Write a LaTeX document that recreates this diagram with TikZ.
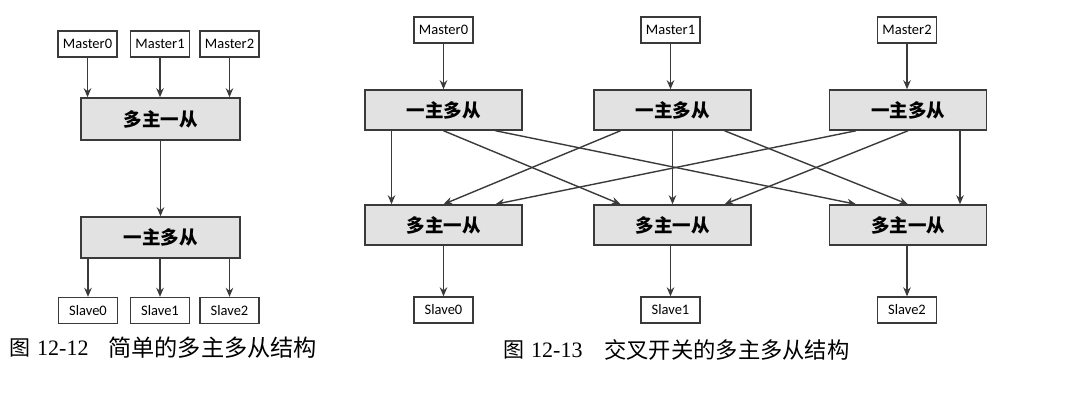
\documentclass[tikz,border=0pt]{standalone}
\usepackage{fontspec}
\setmainfont{Liberation Serif}
\newfontfamily\cjk{Noto Sans CJK SC}
\newfontfamily\calib{Carlito}
\usetikzlibrary{arrows.meta}
\definecolor{ln}{HTML}{3A3A3A}
\definecolor{bx}{HTML}{E2E2E2}
\tikzset{
  small/.style={draw=ln,line width=1.3pt,fill=white,minimum width=59pt,minimum height=26pt,inner sep=0pt,font=\calib\fontsize{14.5}{14.5}\selectfont},
  big/.style={draw=ln,line width=1.5pt,fill=bx,minimum width=157pt,minimum height=40pt,inner sep=0pt,font=\cjk\bfseries\fontsize{18.5}{18.5}\selectfont},
  arr/.style={draw=ln,line width=1.4pt,-{Stealth[length=9pt,width=7.5pt]}},
  captext/.style={inner sep=0pt,anchor=west},
}
\begin{document}
\begin{tikzpicture}[x=1pt,y=-1pt]
\useasboundingbox (0,0) rectangle (1087,406);
% ---------- left figure ----------
\node[small] (LM0) at (87.5,44) {Master0};
\node[small] (LM1) at (160,44) {Master1};
\node[small] (LM2) at (229.5,44) {Master2};
\node[big,minimum width=159pt,minimum height=42pt] (LA) at (160.5,119) {多主一从};
\node[big,minimum width=159pt,minimum height=41pt] (LB) at (160.5,237.5) {一主多从};
\node[small] (LS0) at (88,310.5) {Slave0};
\node[small] (LS1) at (160,310.5) {Slave1};
\node[small] (LS2) at (229.5,310.5) {Slave2};
\foreach \i in {0,1,2}{
  \draw[arr] (LM\i.south) -- (LM\i.south |- LA.north);
  \draw[arr] (LS\i.north |- LB.south) -- (LS\i.north);
}
\draw[arr] (LA.south) -- (LB.north);
\node[captext,font=\cjk\fontsize{21}{21}\selectfont] (lc1) at (9.5,348) {图};
\node[captext,font=\fontsize{22}{22}\selectfont] (lc2) at (37,348) {12-12};
\node[captext,font=\cjk\fontsize{23.2}{23.2}\selectfont] (lc3) at (108,348) {简单的多主多从结构};
% ---------- right figure ----------
\node[small] (RM0) at (443.5,30) {Master0};
\node[small] (RM1) at (670.5,30) {Master1};
\node[small] (RM2) at (907,30) {Master2};
\node[big] (T0) at (443.5,110) {一主多从};
\node[big] (T1) at (672.5,110) {一主多从};
\node[big] (T2) at (908,110) {一主多从};
\node[big] (B0) at (443.5,225) {多主一从};
\node[big] (B1) at (672.5,225) {多主一从};
\node[big] (B2) at (908,225) {多主一从};
\node[small] (RS0) at (443.5,310) {Slave0};
\node[small] (RS1) at (670.5,310) {Slave1};
\node[small] (RS2) at (907,310) {Slave2};
\draw[arr] (RM0.south) -- (RM0.south |- T0.north);
\draw[arr] (RM1.south) -- (RM1.south |- T1.north);
\draw[arr] (RM2.south) -- (RM2.south |- T2.north);
\draw[arr] (RS0.north |- B0.south) -- (RS0.north);
\draw[arr] (RS1.north |- B1.south) -- (RS1.north);
\draw[arr] (RS2.north |- B2.south) -- (RS2.north);
\foreach \i in {0,1,2}{
  \foreach \j in {0,1,2}{
    \draw[arr] ([xshift={(\j-1)*52pt}]T\i.south) -- ([xshift={(\i-1)*52pt}]B\j.north);
  }
}
\node[captext,font=\cjk\fontsize{21}{21}\selectfont] (rc1) at (503,350) {图};
\node[captext,font=\fontsize{22}{22}\selectfont] (rc2) at (531,350) {12-13};
\node[captext,font=\cjk\fontsize{22.3}{22.3}\selectfont] (rc3) at (604,350) {交叉开关的多主多从结构};
\end{tikzpicture}
\end{document}
